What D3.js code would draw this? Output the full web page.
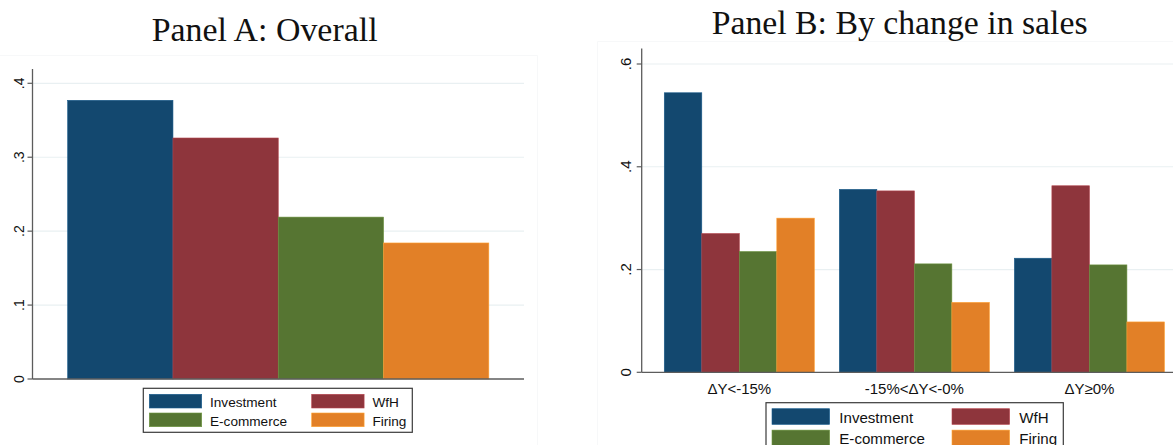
<!DOCTYPE html>
<html>
<head>
<meta charset="utf-8">
<script src="https://cdn.jsdelivr.net/npm/d3@7"></script>
<style>
  html, body { margin: 0; padding: 0; background: #fff; }
  svg { display: block; }
</style>
</head>
<body>
<svg id="chart" width="1173" height="445"></svg>
<script>
// Shares of firms by type of response
const seriesNames = ["Investment", "WfH", "E-commerce", "Firing"];
const seriesColors = ["#13486f", "#8e353c", "#567532", "#e28027"];

// Panel A: overall shares
const overallValues = [0.377, 0.326, 0.219, 0.184];

// Panel B: shares by change in sales
const salesCategories = ["\u0394Y<-15%", "-15%<\u0394Y<-0%", "\u0394Y\u22650%"];
const investmentBySales = [0.544, 0.356, 0.222];
const wfhBySales = [0.270, 0.353, 0.363];
const ecommerceBySales = [0.235, 0.211, 0.209];
const firingBySales = [0.300, 0.136, 0.098];

const panelATicks = [0, 0.1, 0.2, 0.3, 0.4];
const panelBTicks = [0, 0.2, 0.4, 0.6];

const svg = d3.select("#chart");
const fmtTick = d => d === 0 ? "0" : d3.format(".1f")(d).replace(/^0/, "");
const axisColor = "#5c5c5c";
const gridColor = "#e9f0f2";
const frameColor = "#f7f8f9";

// faint graph-region frames of the combined graph
svg.append("path").attr("d", "M0,55.5H537.5V445").attr("fill", "none")
  .attr("stroke", frameColor).attr("stroke-width", 1);
svg.append("path").attr("d", "M597.5,445V41.5H1173").attr("fill", "none")
  .attr("stroke", frameColor).attr("stroke-width", 1);

// title helper: serif text fitted to a given width
function title(text, xLeft, width, baseline) {
  const t = svg.append("text")
    .attr("x", xLeft).attr("y", baseline)
    .attr("font-family", "Liberation Serif, Times New Roman, serif")
    .attr("font-size", 100).attr("fill", "#111")
    .text(text);
  const len = t.node().getComputedTextLength();
  t.attr("font-size", 100 * width / len);
}

function yAxis(g, y, ticks, xAxis, top, fontSize, labelX) {
  g.selectAll(".grid").data(ticks.filter(d => d > 0)).join("line")
    .attr("x1", xAxis).attr("x2", g.attr("data-right"))
    .attr("y1", d => y(d)).attr("y2", d => y(d))
    .attr("stroke", gridColor).attr("stroke-width", 1.2);
  g.append("line").attr("x1", xAxis).attr("x2", xAxis)
    .attr("y1", y(0)).attr("y2", top)
    .attr("stroke", axisColor).attr("stroke-width", 1.3);
  g.selectAll(".tick").data(ticks).join("line")
    .attr("x1", xAxis - 5).attr("x2", xAxis)
    .attr("y1", d => y(d)).attr("y2", d => y(d))
    .attr("stroke", axisColor).attr("stroke-width", 1.2);
  g.selectAll(".lab").data(ticks).join("text")
    .attr("transform", d => `translate(${labelX},${y(d)}) rotate(-90)`)
    .attr("text-anchor", "middle")
    .attr("font-family", "Liberation Sans, Arial, sans-serif")
    .attr("font-size", fontSize).attr("fill", "#111")
    .text(fmtTick);
}

function legend(x, y, w, h, sw, sh, rowGap, col2, textDx, fontSize, textDy) {
  const g = svg.append("g");
  g.append("rect").attr("x", x).attr("y", y).attr("width", w).attr("height", h)
    .attr("fill", "#fff").attr("stroke", "#3a3a3a").attr("stroke-width", 1.2);
  const order = [0, 1, 2, 3];
  order.forEach(i => {
    const col = i % 2, row = Math.floor(i / 2);
    const sx = x + 6 + col * col2;
    const sy = y + 6 + row * rowGap;
    g.append("rect").attr("x", sx).attr("y", sy).attr("width", sw).attr("height", sh)
      .attr("fill", seriesColors[i])
      .attr("stroke", d3.color(seriesColors[i]).brighter(0.7)).attr("stroke-width", 0.6);
    g.append("text").attr("x", sx + textDx).attr("y", sy + textDy)
      .attr("font-family", "Liberation Sans, Arial, sans-serif")
      .attr("font-size", fontSize).attr("fill", "#111")
      .text(seriesNames[i]);
  });
}

// ---------- Panel A ----------
{
  const left = 32.5, right = 524, top = 69, bottom = 379;
  const y = d3.scaleLinear().domain([0, 0.4]).range([bottom, 83.3]);
  const x = d3.scaleBand().domain(seriesNames).range([left, right])
    .paddingInner(0).paddingOuter(0.334);
  const g = svg.append("g").attr("data-right", right);
  yAxis(g, y, panelATicks, left, top, 14, 23.5);

  g.selectAll(".bar").data(seriesNames).join("rect")
    .attr("x", d => x(d)).attr("width", x.bandwidth())
    .attr("y", (d, i) => y(overallValues[i]))
    .attr("height", (d, i) => y(0) - y(overallValues[i]))
    .attr("fill", (d, i) => seriesColors[i])
    .attr("stroke", (d, i) => d3.color(seriesColors[i]).brighter(0.6))
    .attr("stroke-width", 0.6);

  g.append("line").attr("x1", left).attr("x2", right)
    .attr("y1", y(0)).attr("y2", y(0))
    .attr("stroke", axisColor).attr("stroke-width", 1.3);

  title("Panel A: Overall", 151.7, 226, 41);
  legend(143.3, 388.3, 269, 44, 52.4, 13.7, 18.7, 162.4, 60.7, 13.6, 12.7);
}

// ---------- Panel B ----------
{
  const left = 641.7, right = 1187, top = 48.5, bottom = 372.3;
  const y = d3.scaleLinear().domain([0, 0.6]).range([bottom, 64]);
  const x0 = d3.scaleBand().domain(salesCategories).range([left, right])
    .paddingInner(0.1429).paddingOuter(0.129);
  const x1 = d3.scaleBand().domain(seriesNames).range([0, x0.bandwidth()]).padding(0);
  const bySeries = [investmentBySales, wfhBySales, ecommerceBySales, firingBySales];
  const g = svg.append("g").attr("data-right", right);
  yAxis(g, y, panelBTicks, left, top, 15, 630.5);

  const rows = [];
  salesCategories.forEach((c, ci) => seriesNames.forEach((s, si) =>
    rows.push({ c, s, si, v: bySeries[si][ci] })));

  g.selectAll(".bar").data(rows).join("rect")
    .attr("x", d => x0(d.c) + x1(d.s)).attr("width", x1.bandwidth())
    .attr("y", d => y(d.v)).attr("height", d => y(0) - y(d.v))
    .attr("fill", d => seriesColors[d.si])
    .attr("stroke", d => d3.color(seriesColors[d.si]).brighter(0.6))
    .attr("stroke-width", 0.6);

  g.append("line").attr("x1", left).attr("x2", right)
    .attr("y1", y(0)).attr("y2", y(0))
    .attr("stroke", axisColor).attr("stroke-width", 1.3);

  g.selectAll(".cat").data(salesCategories).join("text")
    .attr("x", d => x0(d) + x0.bandwidth() / 2).attr("y", 394)
    .attr("text-anchor", "middle")
    .attr("font-family", "Liberation Sans, Arial, sans-serif")
    .attr("font-size", 15).attr("fill", "#111")
    .text(d => d);

  title("Panel B: By change in sales", 711.7, 376, 34);
  legend(766, 402.7, 297.3, 60, 57.6, 15.7, 21.4, 180, 67.3, 15.1, 14);
}
</script>
</body>
</html>
